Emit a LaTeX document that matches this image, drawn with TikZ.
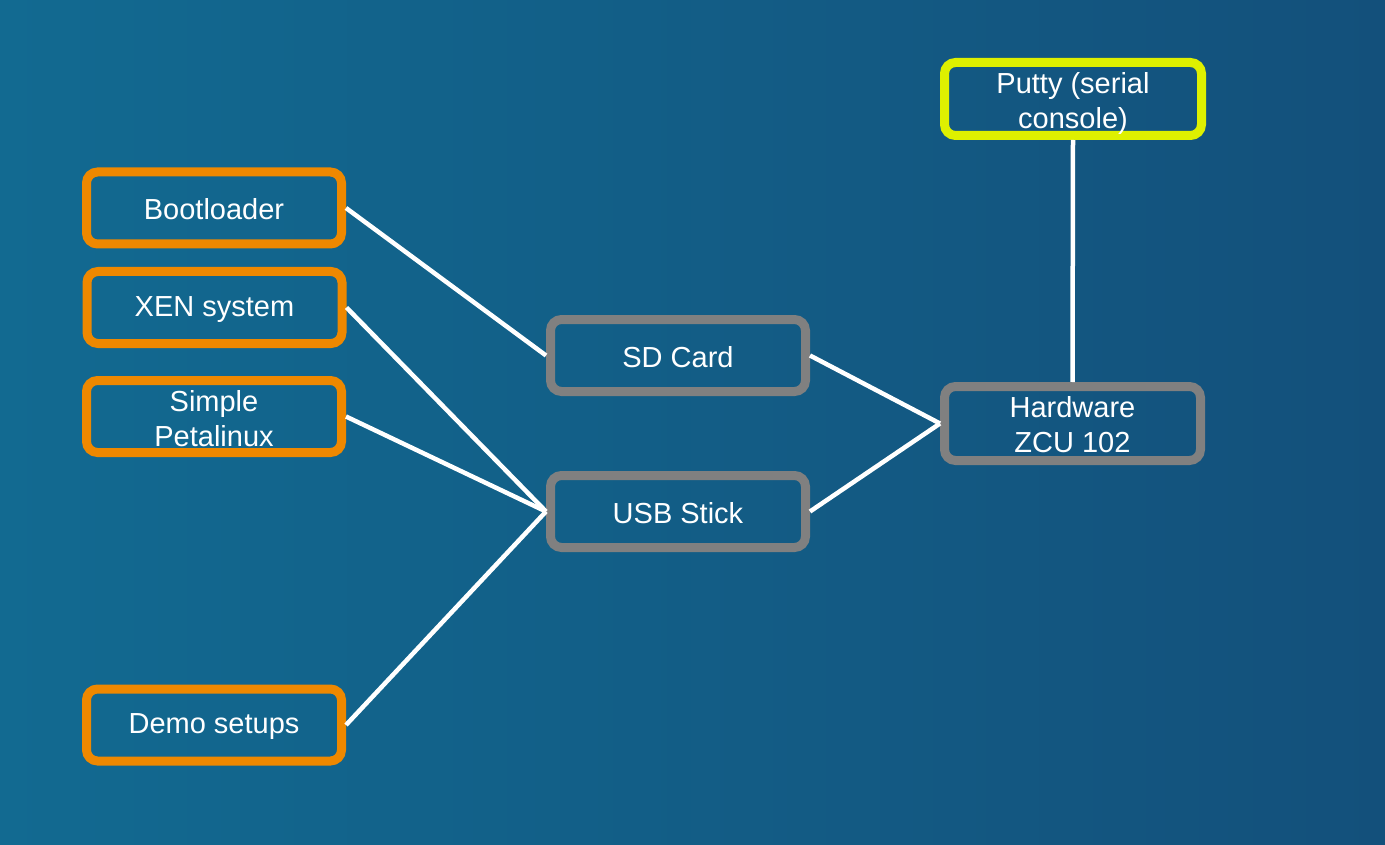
\documentclass[tikz,border=0pt]{standalone}
\usepackage{fontspec}
\setmainfont{Liberation Sans}
\definecolor{bgleft}{RGB}{18,106,145}
\definecolor{bgright}{RGB}{19,80,123}
\definecolor{orangeb}{RGB}{238,136,0}
\definecolor{grayb}{RGB}{128,128,128}
\definecolor{yellowb}{RGB}{222,240,0}
\newcommand{\lift}[1]{\rule{0pt}{#1}}
\begin{document}
\begin{tikzpicture}[x=1pt,y=-1pt,
  box/.style={draw, line width=9pt, rounded corners=11pt, minimum width=255pt, minimum height=72pt,
    align=center, text=white, font=\fontsize{29}{35}\selectfont, inner sep=0pt},
  srcbox/.style={box, draw=orangeb},
  midbox/.style={box, draw=grayb},
  termbox/.style={box, draw=yellowb, minimum width=257pt, minimum height=73pt},
  link/.style={draw=white, line width=4.5pt}]
\shade[left color=bgleft, right color=bgright] (0,0) rectangle (1385,845);
\useasboundingbox (0,0) rectangle (1385,845);
\node[srcbox] (boot) at (214,208) {\lift{24pt}Bootloader};
\node[srcbox] (xen) at (214.5,307.5) {\lift{24pt}XEN system};
\node[srcbox] (simple) at (214,416.5) {\lift{25pt}Simple\\Petalinux};
\node[srcbox] (demo) at (214,725) {\lift{24pt}Demo setups};
\node[midbox] (sd) at (678,355.5) {\lift{24pt}SD Card};
\node[midbox] (usb) at (678,511.5) {\lift{24pt}USB Stick};
\node[midbox, minimum width=256pt, minimum height=74pt] (hw) at (1072.5,423.5) {\lift{23pt}Hardware\\ZCU 102};
\node[termbox] (putty) at (1073,99) {\lift{31pt}Putty (serial\\console)};
\draw[link] (boot.east) -- (sd.west);
\draw[link] (xen.east) -- (usb.west);
\draw[link] (simple.east) -- (usb.west);
\draw[link] (demo.east) -- (usb.west);
\draw[link] (sd.east) -- (hw.west);
\draw[link] (usb.east) -- (hw.west);
\draw[link] (putty.south) -- (hw.north);
\end{tikzpicture}
\end{document}
